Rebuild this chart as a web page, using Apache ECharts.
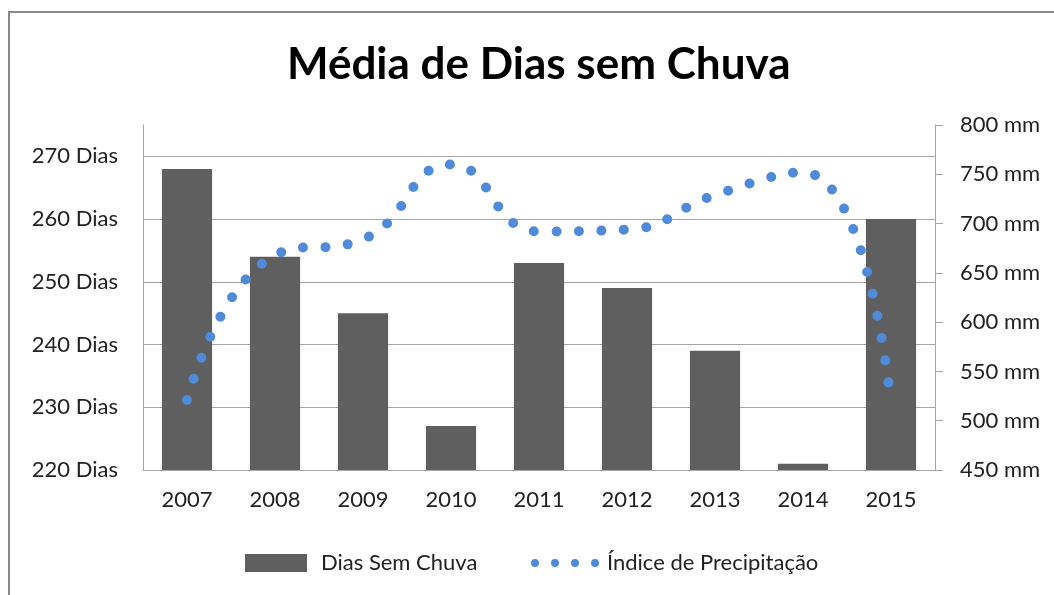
<!DOCTYPE html>
<html>
<head>
<meta charset="utf-8">
<script src="https://cdn.jsdelivr.net/npm/echarts@6/dist/echarts.min.js"></script>
<style>
  html, body { margin: 0; padding: 0; background: #fff; }
  #main_chart { width: 1054px; height: 595px; }
</style>
</head>
<body>
<div id="main_chart"></div>
<script>
var anos = ['2007', '2008', '2009', '2010', '2011', '2012', '2013', '2014', '2015'];
var diasSemChuva = [268, 254, 245, 227, 253, 249, 239, 221, 260];
var precipitacao = [521, 668, 684, 760, 692, 694, 729, 752, 518];
var serieNomes = ['Dias Sem Chuva', 'Índice de Precipitação'];

var fonte = 'Lato';
var cinza = '#a6a6a6';
var dotsIcon = 'path://M0,4A4,4 0 1,1 8,4A4,4 0 1,1 0,4Z' +
    'M20,4A4,4 0 1,1 28,4A4,4 0 1,1 20,4Z' +
    'M40,4A4,4 0 1,1 48,4A4,4 0 1,1 40,4Z' +
    'M60,4A4,4 0 1,1 68,4A4,4 0 1,1 60,4Z';

var main_chart = echarts.init(document.getElementById('main_chart'));

var chartOpt = {
    animation: false,
    textStyle: { fontFamily: fonte },
    title: {
        text: 'Média de Dias sem Chuva',
        left: 282,
        top: 38,
        textStyle: { fontFamily: fonte, fontSize: 44, fontWeight: 'bold', color: '#000' }
    },
    graphic: [{
        type: 'rect',
        shape: { x: 9, y: 12, width: 2000, height: 2000 },
        style: { fill: 'none', stroke: '#8a8a8a', lineWidth: 2 },
        silent: true
    }],
    legend: [{
        data: [serieNomes[0]],
        left: 240,
        top: 547,
        itemWidth: 62,
        itemHeight: 18,
        icon: 'rect',
        textStyle: { fontSize: 22, color: '#222', padding: [0, 0, 0, 9] }
    }, {
        data: [serieNomes[1]],
        left: 526,
        top: 547,
        itemWidth: 68,
        itemHeight: 8,
        icon: dotsIcon,
        textStyle: { fontSize: 22, color: '#222', padding: [0, 0, 0, 3] }
    }],
    grid: { left: 143, right: 119, top: 125, bottom: 125 },
    xAxis: {
        type: 'category',
        data: anos,
        axisLine: { lineStyle: { color: cinza } },
        axisTick: { show: false },
        axisLabel: { fontSize: 22, color: '#222', margin: 19 }
    },
    yAxis: [{
        type: 'value',
        position: 'left',
        min: 220,
        max: 275,
        interval: 10,
        axisLine: { show: true, lineStyle: { color: cinza } },
        axisTick: { show: false },
        splitLine: { showMaxLine: false, lineStyle: { color: cinza } },
        axisLabel: { fontSize: 22, color: '#222', margin: 25, showMaxLabel: false, formatter: '{value} Dias' }
    }, {
        type: 'value',
        position: 'right',
        min: 450,
        max: 800,
        interval: 50,
        axisLine: { show: true, lineStyle: { color: cinza } },
        axisTick: { show: true, length: 8, lineStyle: { color: cinza } },
        splitLine: { show: false },
        axisLabel: { fontSize: 22, color: '#222', margin: 25, formatter: '{value} mm' }
    }],
    series: [{
        name: serieNomes[0],
        type: 'bar',
        data: diasSemChuva,
        barWidth: '57%',
        itemStyle: { color: '#5f5f5f' }
    }, {
        name: serieNomes[1],
        type: 'line',
        yAxisIndex: 1,
        data: precipitacao,
        smooth: 0.5,
        symbol: 'none',
        color: '#4f8bd8',
        lineStyle: { color: '#4f8bd8', width: 10, type: [0, 22.5], cap: 'round' }
    }]
};

main_chart.setOption(chartOpt);
</script>
</body>
</html>
